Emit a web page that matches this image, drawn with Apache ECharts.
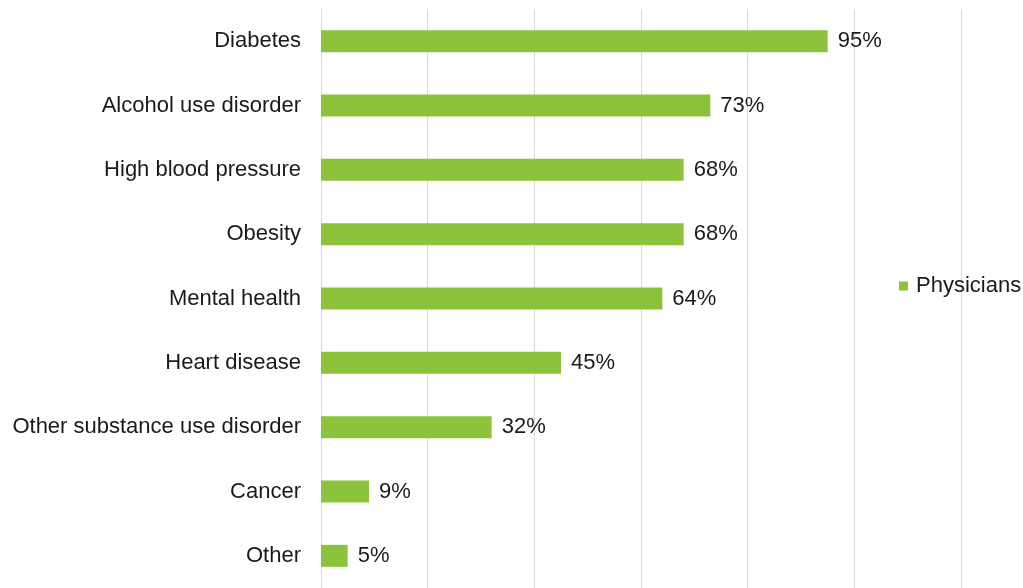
<!DOCTYPE html>
<html><head><meta charset="utf-8">
<script src="https://cdn.jsdelivr.net/npm/echarts@6/dist/echarts.min.js"></script>
<style>html,body{margin:0;padding:0;background:#fff}#c{width:1023px;height:588px}</style>
</head><body><div id="c"></div>
<script>
var categories = ["Diabetes","Alcohol use disorder","High blood pressure","Obesity","Mental health","Heart disease","Other substance use disorder","Cancer","Other"];
var physicians = [95,73,68,68,64,45,32,9,5];
var seriesName = "Physicians";
var FONT = '"Liberation Sans", Arial, sans-serif';
var chart = echarts.init(document.getElementById('c'), null, {renderer:'canvas'});
chart.setOption({
  animation:false,
  backgroundColor:'#ffffff',
  textStyle:{fontFamily:FONT},
  legend:{
    data:[seriesName], orient:'vertical', left:894, top:270,
    itemWidth:9, itemHeight:9, itemGap:0, icon:'rect',
    textStyle:{fontSize:22, color:'#1a1a1a', fontFamily:FONT, padding:[0,0,0,3]}
  },
  grid:{left:321, right:62, top:9, bottom:0, containLabel:false},
  xAxis:{
    type:'value', min:0, max:120, interval:20,
    axisLabel:{show:false}, axisLine:{show:false}, axisTick:{show:false},
    splitLine:{show:true, lineStyle:{color:'#d9d9d9', width:1}}
  },
  yAxis:{
    type:'category', data:categories, inverse:true,
    axisLine:{show:true, lineStyle:{color:'#d9d9d9', width:1}},
    axisTick:{show:false},
    axisLabel:{fontSize:22, color:'#1a1a1a', margin:20, fontFamily:FONT}
  },
  series:[{
    name:seriesName, type:'bar', data:physicians, barWidth:22,
    itemStyle:{color:'#8cc23c'},
    label:{show:true, position:'right', distance:10, formatter:'{c}%', fontSize:22, color:'#1a1a1a', fontFamily:FONT}
  }]
});
</script></body></html>
